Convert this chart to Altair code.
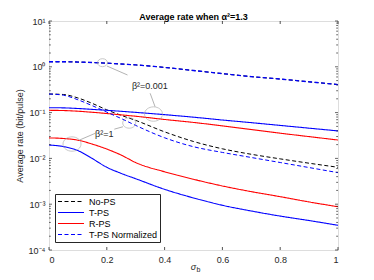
import altair as alt
import pandas as pd

# ---------------- data ----------------
sigma = [0, 0.05, 0.1, 0.15, 0.2, 0.25, 0.3, 0.4, 0.5, 0.6, 0.7, 0.8, 0.9, 1.0]

# beta^2 = 0.001
nops_b001 = [1.29, 1.29, 1.27, 1.24, 1.20, 1.15, 1.10, 0.97, 0.83, 0.71, 0.61, 0.54, 0.47, 0.41]
tps_b001 = [0.128, 0.1268, 0.123, 0.1175, 0.1122, 0.1067, 0.1012, 0.0902, 0.0794, 0.0689, 0.0603, 0.0525, 0.0457, 0.0398]
rps_b001 = [0.1122, 0.1109, 0.1072, 0.1016, 0.0955, 0.0891, 0.0832, 0.0708, 0.061, 0.0513, 0.0427, 0.0355, 0.0299, 0.0252]
tpsn_b001 = [1.29, 1.29, 1.27, 1.24, 1.20, 1.15, 1.10, 0.97, 0.83, 0.71, 0.61, 0.54, 0.47, 0.41]

# beta^2 = 1
nops_b1 = [0.2547, 0.2483, 0.2089, 0.1585, 0.1148, 0.0871, 0.0676, 0.0380, 0.0234, 0.0162, 0.0123, 0.00977, 0.00785, 0.0064]
tps_b1 = [0.0196, 0.0181, 0.0148, 0.0099, 0.0064, 0.0047, 0.0036, 0.00211, 0.00137, 0.000946, 0.00071, 0.00055, 0.00044, 0.000346]
rps_b1 = [0.0280, 0.0272, 0.0250, 0.0205, 0.0160, 0.0118, 0.0081, 0.0051, 0.0035, 0.0025, 0.00188, 0.00146, 0.00112, 0.00088]
tpsn_b1 = [0.2547, 0.2399, 0.1905, 0.1413, 0.1023, 0.0741, 0.0525, 0.0282, 0.0180, 0.0135, 0.01047, 0.00813, 0.00631, 0.00488]

series_names = ["No-PS", "T-PS", "R-PS", "T-PS Normalized"]

x_ticks = [0, 0.2, 0.4, 0.6, 0.8, 1.0]
y_ticks = [0.0001, 0.001, 0.01, 0.1, 1, 10]
y_tick_labels = ["10⁻⁴", "10⁻³", "10⁻²", "10⁻¹", "10⁰", "10¹"]
y_minor = [k * 10.0 ** d for d in range(-4, 1) for k in range(2, 10)]

# annotations (data coordinates)
circ_sigma = [0.185, 0.3616, 0.2776, 0.0796]
circ_rate = [1.23, 0.093, 0.0593, 0.0206]
circ_size = [100, 324, 169, 324]

seg_x1 = [0.2005, 0.350, 0.256, 0.160]
seg_y1 = [1.04, 0.264, 0.0491, 0.0353]
seg_x2 = [0.2717, 0.367, 0.226, 0.1058]
seg_y2 = [0.662, 0.1346, 0.0435, 0.0252]

ann_text = ["β²=0.001", "β²=1"]
ann_sigma = [0.349, 0.191]
ann_rate = [0.381, 0.034]

# ---------------- build tables ----------------
curves = [
    ("a_nops_b001", "No-PS", nops_b001),
    ("e_nops_b1", "No-PS", nops_b1),
    ("b_tpsn_b001", "T-PS Normalized", tpsn_b001),
    ("c_tps_b001", "T-PS", tps_b001),
    ("d_rps_b001", "R-PS", rps_b001),
    ("f_tpsn_b1", "T-PS Normalized", tpsn_b1),
    ("g_tps_b1", "T-PS", tps_b1),
    ("h_rps_b1", "R-PS", rps_b1),
]
rows = []
for key, name, vals in curves:
    for s, v in zip(sigma, vals):
        rows.append({"sigma": s, "rate": v, "series": name, "key": key})
df = pd.DataFrame(rows)

W, H = 289, 229
AX = "#262626"
FONT = "Liberation Sans"

xs = alt.Scale(domain=[0, 1], nice=False, zero=False)
ys = alt.Scale(type="log", domain=[0.0001, 10], nice=False)

colors = ["#000000", "#0000ff", "#ff0000", "#0000ff"]
dashes = [[4, 2.5], [1, 0], [1, 0], [4, 2.5]]

legend = alt.Legend(
    title=None, orient="none", legendX=6, legendY=173,
    symbolType="stroke", symbolSize=676, symbolStrokeWidth=1.2,
    clipHeight=11, labelFontSize=9, labelColor="#000000", labelFont=FONT,
    strokeColor=AX, fillColor="white", padding=2, labelOffset=4,
    rowPadding=0, offset=0,
)

ylabel_expr = "[" + ",".join("'" + t + "'" for t in y_tick_labels) + "][round(log(datum.value)/LN10)+4]"

x_axis = alt.Axis(
    values=x_ticks, title=None, grid=False, ticks=False, tickSize=0, domain=False,
    labelPadding=5, labelFontSize=9, labelColor=AX, labelFont=FONT,
    labelExpr="datum.value == 0 ? '0' : datum.value == 1 ? '1' : format(datum.value, '.1f')")
y_axis = alt.Axis(
    values=y_ticks, title="Average rate (bit/pulse)", grid=False, ticks=False, tickSize=0,
    domain=False, labelPadding=4, labelFontSize=9, labelColor=AX, labelFont=FONT,
    labelExpr=ylabel_expr, titleFontSize=9, titleFontWeight="normal", titleColor=AX,
    titleFont=FONT, titlePadding=4)

color_enc = alt.Color("series:N", scale=alt.Scale(domain=series_names, range=colors), legend=legend)
dash_enc = alt.StrokeDash("series:N", scale=alt.Scale(domain=series_names, range=dashes), legend=legend)


def line_layer(width):
    return alt.Chart(df).mark_line(interpolate="monotone", strokeWidth=width, clip=True).encode(
        x=alt.X("sigma:Q", scale=xs, axis=x_axis),
        y=alt.Y("rate:Q", scale=ys, axis=y_axis),
        color=color_enc,
        strokeDash=dash_enc,
        detail="key:N",
    )


lines_black = line_layer(1.0).transform_filter(alt.datum.series == "No-PS")
lines_solid = line_layer(1.1).transform_filter(
    (alt.datum.series == "T-PS") | (alt.datum.series == "R-PS"))
lines_norm_low = line_layer(1.0).transform_filter(alt.datum.key == "f_tpsn_b1")
lines_norm_top = line_layer(1.3).transform_filter(alt.datum.key == "b_tpsn_b001")

xt = pd.DataFrame({"sigma": x_ticks})
yt = pd.DataFrame({"rate": y_ticks})
ym = pd.DataFrame({"rate": y_minor})


def xtick(y0, y1):
    return alt.Chart(xt).mark_rule(color=AX, strokeWidth=0.8).encode(
        x=alt.X("sigma:Q", scale=xs, axis=x_axis), y=alt.value(y0), y2=alt.value(y1))


def ytick(data, x0, x1):
    return alt.Chart(data).mark_rule(color=AX, strokeWidth=0.7).encode(
        y=alt.Y("rate:Q", scale=ys, axis=y_axis), x=alt.value(x0), x2=alt.value(x1))


ticks = [
    xtick(H, H - 3), xtick(0, 3),
    ytick(yt, 0, 3), ytick(yt, W, W - 3),
    ytick(ym, 0, 1.8), ytick(ym, W, W - 1.8),
]

ellipse = "M -1 0 A 1 0.8 0 1 1 1 0 A 1 0.8 0 1 1 -1 0 Z"
circ_df = pd.DataFrame({"sigma": circ_sigma, "rate": circ_rate, "size": circ_size})
circles = alt.Chart(circ_df).mark_point(shape=ellipse, color="#a0a0a0", strokeWidth=0.8, filled=False).encode(
    x=alt.X("sigma:Q", scale=xs, axis=x_axis),
    y=alt.Y("rate:Q", scale=ys, axis=y_axis),
    size=alt.Size("size:Q", scale=None, legend=None),
)

seg_df = pd.DataFrame({"sigma": seg_x1, "rate": seg_y1, "x2": seg_x2, "y2": seg_y2})
segs = alt.Chart(seg_df).mark_rule(color="#a0a0a0", strokeWidth=0.8).encode(
    x=alt.X("sigma:Q", scale=xs, axis=x_axis), x2="x2:Q",
    y=alt.Y("rate:Q", scale=ys, axis=y_axis), y2="y2:Q",
)

txt_df = pd.DataFrame({"sigma": ann_sigma, "rate": ann_rate, "t": ann_text})
texts = alt.Chart(txt_df).mark_text(fontSize=9, font=FONT, color="#262626", align="center", baseline="middle").encode(
    x=alt.X("sigma:Q", scale=xs, axis=x_axis),
    y=alt.Y("rate:Q", scale=ys, axis=y_axis),
    text="t:N",
)

xt_df = pd.DataFrame({"sigma": [0.5], "t": ["σ"], "s": ["b"]})
xtitle = alt.Chart(xt_df).mark_text(fontSize=9, font=FONT, color=AX, fontStyle="italic",
                                    align="center", baseline="middle").encode(
    x=alt.X("sigma:Q", scale=xs, axis=x_axis), y=alt.value(H + 17), text="t:N")
xsub = alt.Chart(xt_df).mark_text(fontSize=7, font=FONT, color=AX, align="left",
                                  baseline="middle", dx=3, dy=3).encode(
    x=alt.X("sigma:Q", scale=xs, axis=x_axis), y=alt.value(H + 17), text="s:N")

chart = alt.layer(lines_black, lines_solid, lines_norm_low, lines_norm_top,
                  *ticks, circles, segs, texts, xtitle, xsub).properties(
    width=W, height=H,
    title=alt.TitleParams("Average rate when α²=1.3", fontSize=9, fontWeight="bold",
                          font=FONT, color="#000000", anchor="middle", offset=0,
                          frame="group", dy=5),
    autosize=alt.AutoSizeParams(type="none"),
    padding={"left": 41, "top": 13, "right": 28, "bottom": 28},
).configure_view(stroke=AX, strokeWidth=1).configure(font=FONT)

chart.save("out.html", embed_options={"renderer": "svg", "actions": False})
